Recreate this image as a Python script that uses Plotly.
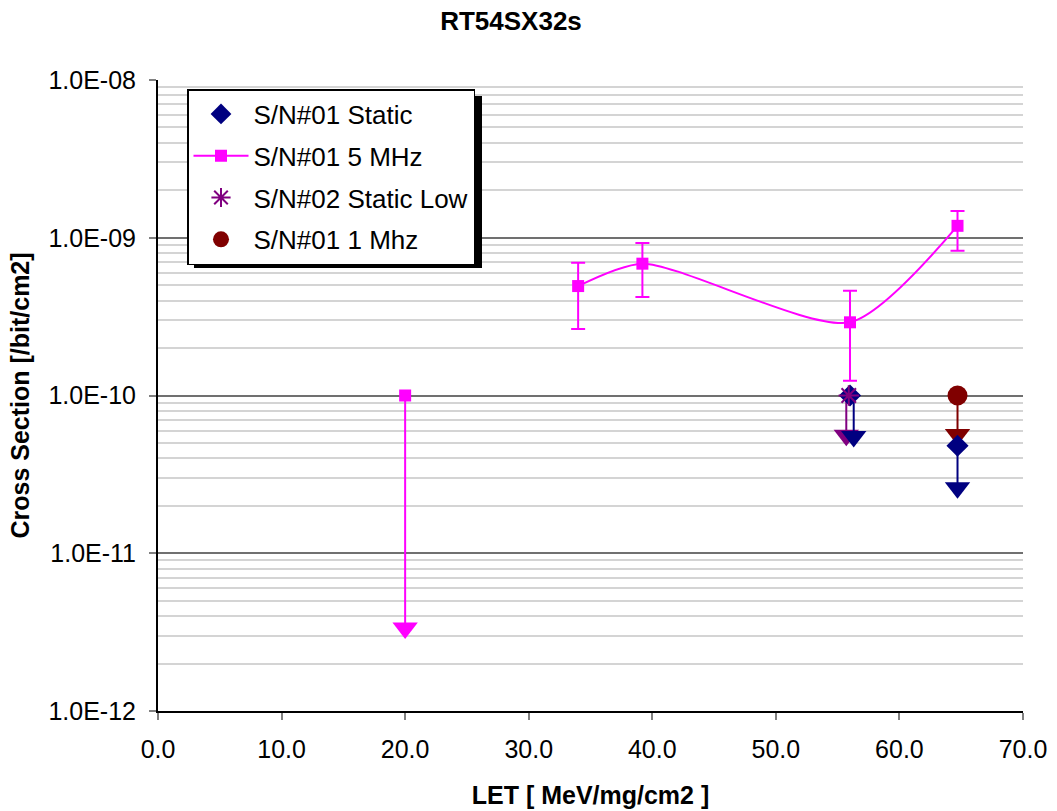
import plotly.graph_objects as go

# ---------------- data ----------------
title_text = "RT54SX32s"
x_title = "LET [ MeV/mg/cm2 ]"
y_title = "Cross Section [/bit/cm2]"

y_tick_vals = [1e-12, 1e-11, 1e-10, 1e-9, 1e-8]
y_tick_text = ["1.0E-12", "1.0E-11", "1.0E-10", "1.0E-09", "1.0E-08"]
x_tick_vals = [0, 10, 20, 30, 40, 50, 60, 70]
x_tick_text = ["0.0", "10.0", "20.0", "30.0", "40.0", "50.0", "60.0", "70.0"]

# S/N#01 Static (upper limits)
static_x = [56.0, 64.7]
static_y = [1.0e-10, 4.8e-11]
static_arrow_x = [56.3, 64.7]
static_arrow_end = [5.5e-11, 2.6e-11]

# S/N#01 5 MHz
mhz5_x = [34.0, 39.2, 56.0, 64.7]
mhz5_y = [4.94e-10, 6.85e-10, 2.91e-10, 1.19e-9]
mhz5_upper = [6.95e-10, 9.26e-10, 4.62e-10, 1.48e-9]
mhz5_lower = [2.64e-10, 4.21e-10, 1.24e-10, 8.28e-10]
# S/N#01 5 MHz upper-limit point
mhz5_limit_x = [20.0]
mhz5_limit_y = [1.0e-10]
mhz5_limit_end = [3.36e-12]

# S/N#02 Static Low
low_x = [55.9]
low_y = [1.0e-10]
low_arrow_x = [55.7]
low_arrow_end = [5.6e-11]

# S/N#01 1 Mhz
mhz1_x = [64.7]
mhz1_y = [1.0e-10]
mhz1_arrow_end = [5.65e-11]

# ---------------- colours ----------------
NAVY = "#000080"
MAGENTA = "#FF00FF"
PURPLE = "#800080"
DARKRED = "#800000"
FONT = "Liberation Sans, Arial, sans-serif"

fig = go.Figure()


def add_arrows(xs, y0s, y1s, color):
    for x, y0, y1 in zip(xs, y0s, y1s):
        fig.add_trace(go.Scatter(x=[x, x], y=[y0, y1], mode="lines",
                                 line=dict(color=color, width=2),
                                 showlegend=False, hoverinfo="skip"))
        fig.add_trace(go.Scatter(x=[x], y=[y1], mode="markers",
                                 marker=dict(symbol="triangle-down", size=22, color=color),
                                 showlegend=False, hoverinfo="skip"))


# arrows (drawn first, under the markers)
add_arrows(mhz5_limit_x, mhz5_limit_y, mhz5_limit_end, MAGENTA)
add_arrows(low_arrow_x, low_y, low_arrow_end, PURPLE)
add_arrows(static_arrow_x, static_y, static_arrow_end, NAVY)
add_arrows(mhz1_x, mhz1_y, mhz1_arrow_end, DARKRED)

# 5 MHz limit point square
fig.add_trace(go.Scatter(x=mhz5_limit_x, y=mhz5_limit_y, mode="markers",
                         marker=dict(symbol="square", size=12, color=MAGENTA),
                         showlegend=False))

# legend traces
fig.add_trace(go.Scatter(x=static_x, y=static_y, mode="markers", name="S/N#01 Static",
                         legendgroup="a",
                         marker=dict(symbol="diamond", size=17, color=NAVY)))

err_plus = [u - v for u, v in zip(mhz5_upper, mhz5_y)]
err_minus = [v - l for v, l in zip(mhz5_y, mhz5_lower)]
fig.add_trace(go.Scatter(x=mhz5_x, y=mhz5_y, mode="lines+markers", name="S/N#01 5 MHz",
                         legendgroup="b",
                         line=dict(color=MAGENTA, width=2, shape="spline", smoothing=0.7),
                         marker=dict(symbol="square", size=12, color=MAGENTA),
                         error_y=dict(type="data", symmetric=False, array=err_plus,
                                      arrayminus=err_minus, color=MAGENTA,
                                      thickness=2, width=7)))

fig.add_trace(go.Scatter(x=low_x, y=low_y, mode="markers", name="S/N#02 Static Low",
                         legendgroup="c",
                         marker=dict(symbol="asterisk-open", size=17,
                                     line=dict(color=PURPLE, width=2), color=PURPLE)))

fig.add_trace(go.Scatter(x=mhz1_x, y=mhz1_y, mode="markers", name="S/N#01 1 Mhz",
                         legendgroup="d",
                         marker=dict(symbol="circle", size=20, color=DARKRED)))

# ---------------- layout ----------------
W, H = 1057, 811
L, R, T, B = 158, 34, 80, 100
pw, ph = W - L - R, H - T - B


def px2paper(px, py):
    return (px - L) / pw, 1 - (py - T) / ph


# legend shadow
sx0, sy0 = px2paper(194, 96)
sx1, sy1 = px2paper(482, 268)
fig.add_shape(type="rect", xref="paper", yref="paper", x0=sx0, x1=sx1, y0=sy1, y1=sy0,
              fillcolor="black", line=dict(width=0), layer="above")

lx, ly = px2paper(187, 89)

fig.update_layout(
    width=W, height=H,
    margin=dict(l=L, r=R, t=T, b=B, autoexpand=False),
    paper_bgcolor="white", plot_bgcolor="white",
    font=dict(family=FONT, color="black", size=25),
    title=dict(text=title_text, x=511 / W, xanchor="center", y=1 - 21 / H,
               yanchor="middle", font=dict(family=FONT, size=26, color="black", weight="bold")),
    showlegend=True,
    legend=dict(x=lx, y=ly, xanchor="left", yanchor="top", bgcolor="white",
                bordercolor="black", borderwidth=1.5,
                font=dict(family=FONT, size=26, color="black"),
                tracegroupgap=5, itemwidth=55, traceorder="grouped"),
    xaxis=dict(range=[0, 70], tickmode="array", tickvals=x_tick_vals, ticktext=x_tick_text,
               showgrid=False, zeroline=False, showline=True, linecolor="black", linewidth=2,
               ticks="outside", ticklen=7, tickcolor="#808080", tickwidth=1.5,
               ticklabelstandoff=8, tickfont=dict(size=25), automargin=False,
               title=dict(text=x_title, standoff=24,
                          font=dict(family=FONT, size=25, weight="bold"))),
    yaxis=dict(type="log", range=[-12, -8], tickmode="array", tickvals=y_tick_vals,
               ticktext=y_tick_text, showgrid=True, gridcolor="#707070", gridwidth=1.5,
               zeroline=False, showline=True, linecolor="black", linewidth=2,
               ticks="outside", ticklen=7, tickcolor="#808080", tickwidth=1.5,
               ticklabelstandoff=8, tickfont=dict(size=25), automargin=False,
               minor=dict(dtick="D1", showgrid=True, gridcolor="#d4d4d4", gridwidth=1.5,
                          ticks=""),
               title=dict(text=y_title, standoff=12,
                          font=dict(family=FONT, size=25, weight="bold"))),
)

# remove the browser's default 8 px page margin so the figure sits at the corner
fig.write_html("out.html", config={"displayModeBar": False},
               post_script="document.body.style.margin='0';")
